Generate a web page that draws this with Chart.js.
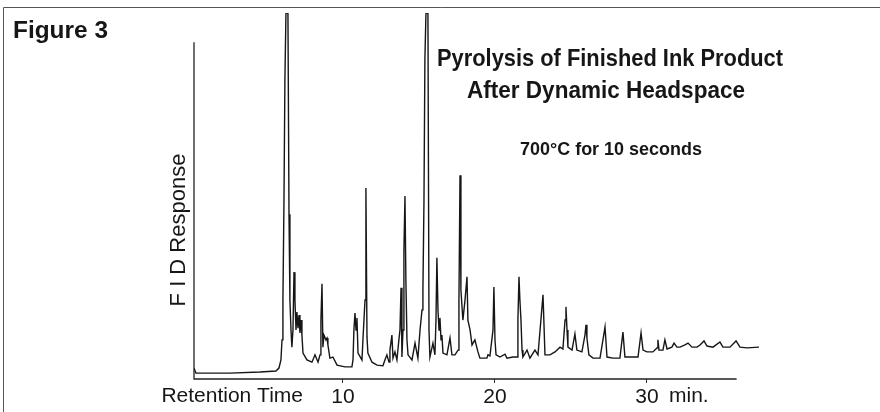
<!DOCTYPE html>
<html>
<head>
<meta charset="utf-8">
<script src="https://cdn.jsdelivr.net/npm/chart.js@4.4.1/dist/chart.umd.min.js"></script>
<style>
  html, body { margin: 0; padding: 0; background: #fff; }
  #wrap { width: 880px; height: 412px; }
</style>
</head>
<body>
<div id="wrap"><canvas id="chromatogram"></canvas></div>
<script>
// retention time (min) and FID response (relative, 100 = top of plot)
const retentionMin = [
  0.20, 0.33, 2.57, 4.54, 5.59, 5.79, 5.92, 5.99, 6.05, 6.12, 6.18, 6.25, 6.38, 6.45, 6.51, 6.58,
  6.64, 6.71, 6.78, 6.84, 6.91, 6.97, 7.04, 7.11, 7.17, 7.24, 7.30, 7.37, 7.63, 7.96, 8.16, 8.36,
  8.49, 8.55, 8.62, 8.68, 8.75, 8.88, 8.95, 9.01, 9.14, 9.34, 9.61, 10.13, 10.59, 10.66, 10.72, 10.79,
  10.86, 10.92, 10.99, 11.25, 11.32, 11.45, 11.51, 11.58, 11.64, 11.91, 12.24, 12.63, 12.76, 12.89, 13.03, 13.09,
  13.22, 13.29, 13.42, 13.55, 13.68, 13.75, 13.82, 13.88, 13.95, 14.01, 14.08, 14.14, 14.21, 14.28, 14.54, 14.74,
  14.93, 15.07, 15.20, 15.26, 15.33, 15.39, 15.46, 15.59, 15.66, 15.72, 15.92, 16.05, 16.12, 16.18, 16.25, 16.32,
  16.38, 16.45, 16.51, 16.58, 16.84, 17.04, 17.17, 17.37, 17.57, 17.63, 17.70, 17.76, 17.89, 18.03, 18.16, 18.22,
  18.36, 18.49, 18.68, 18.88, 19.01, 19.47, 19.54, 19.67, 19.87, 19.93, 20.00, 20.07, 20.33, 20.66, 20.79, 21.18,
  21.45, 21.51, 21.58, 21.64, 21.71, 21.78, 21.84, 22.11, 22.30, 22.63, 22.83, 23.16, 23.29, 23.62, 23.95, 24.28,
  24.47, 24.61, 24.67, 24.74, 24.80, 25.07, 25.26, 25.39, 25.72, 25.92, 25.99, 26.05, 26.18, 26.45, 26.91, 27.24,
  27.37, 27.76, 28.22, 28.42, 28.55, 29.08, 29.41, 29.61, 29.74, 30.00, 30.39, 30.66, 30.72, 30.79, 31.05, 31.18,
  31.32, 31.64, 31.78, 31.97, 32.17, 32.50, 32.70, 32.96, 33.29, 33.49, 33.75, 33.95, 34.34, 34.80, 35.00, 35.46,
  35.86, 36.12, 36.58, 37.37
];
const fidResponse = [
  3.0, 1.6, 1.6, 1.9, 2.2, 3.0, 5.2, 10.7, 21.6, 48.9, 81.7, 100, 100, 45.0, 21.6, 13.4,
  8.7, 13.4, 29.2, 21.6, 13.4, 18.3, 13.9, 17.5, 12.6, 16.1, 12.0, 7.1, 5.2, 4.6, 6.6, 4.6,
  6.6, 16.1, 26.0, 8.7, 12.0, 10.7, 11.2, 9.3, 5.7, 6.0, 3.8, 3.3, 3.3, 5.2, 13.4, 18.0,
  13.4, 16.7, 7.1, 5.2, 11.2, 21.6, 52.2, 11.5, 7.1, 4.6, 3.8, 3.6, 5.2, 6.6, 4.6, 7.9,
  12.0, 5.7, 7.4, 5.2, 10.7, 13.4, 24.9, 6.0, 13.4, 35.2, 50.0, 27.0, 10.7, 6.6, 5.2, 9.8,
  5.7, 13.4, 18.9, 24.3, 48.9, 87.2, 100, 100, 13.4, 6.0, 9.8, 6.6, 16.1, 33.1, 18.9, 13.4,
  16.7, 10.7, 12.0, 7.1, 6.6, 11.2, 6.6, 6.6, 7.9, 21.6, 55.7, 24.3, 16.1, 21.6, 27.9, 16.1,
  13.4, 9.3, 10.7, 7.4, 5.7, 5.7, 6.6, 6.3, 13.4, 25.1, 10.7, 6.6, 6.0, 6.8, 5.7, 6.0,
  6.0, 16.1, 27.9, 21.6, 16.1, 7.9, 6.0, 7.9, 5.7, 7.9, 6.6, 23.0, 6.6, 6.6, 7.4, 8.7,
  8.2, 16.1, 19.7, 13.4, 8.7, 7.9, 12.3, 7.9, 7.4, 12.0, 14.8, 11.2, 6.6, 5.7, 5.7, 14.2,
  6.0, 5.7, 5.7, 12.8, 6.0, 6.0, 6.0, 12.6, 7.9, 7.4, 7.4, 8.5, 10.7, 7.9, 7.9, 10.7,
  8.2, 8.7, 9.8, 8.7, 8.7, 9.3, 9.8, 8.7, 8.7, 9.3, 10.4, 9.0, 8.7, 10.1, 8.7, 8.7,
  10.4, 8.7, 8.5, 8.7
];
const tickMinutes = [10, 20, 30];
const axisStartMin = 0.2;
const axisEndMin = 35.9;
const yAxisTop = 92;

const figureLabel = 'Figure 3';
const titleLines = ['Pyrolysis of Finished Ink Product', 'After Dynamic Headspace'];
const conditionsText = '700\u00B0C for 10 seconds';
const yTitle = 'F I D Response';
const xTitle = 'Retention Time';
const unitText = 'min.';

const INK = '#161616';
const SANS = '"Liberation Sans", Arial, sans-serif';

// bold condensed look: draw bold text squeezed to a given width
function squeezed(ctx, text, size, left, baseline, width) {
  ctx.font = 'bold ' + size + 'px ' + SANS;
  const w = ctx.measureText(text).width;
  ctx.save();
  ctx.translate(left, baseline);
  ctx.scale(width / w, 1);
  ctx.textAlign = 'left';
  ctx.textBaseline = 'alphabetic';
  ctx.fillText(text, 0, 0);
  ctx.restore();
}

const decor = {
  id: 'decor',
  afterDraw(chart) {
    const { ctx } = chart;
    const x = chart.scales.x, y = chart.scales.y;
    ctx.save();

    // page frame (scan edges)
    ctx.strokeStyle = '#555';
    ctx.lineWidth = 1;
    ctx.beginPath();
    ctx.moveTo(3.5, 412);
    ctx.lineTo(3.5, 7.5);
    ctx.lineTo(880, 7.5);
    ctx.stroke();

    // axes
    const x0 = x.getPixelForValue(axisStartMin);
    const x1 = x.getPixelForValue(axisEndMin);
    const yb = y.getPixelForValue(0);
    ctx.strokeStyle = '#222';
    ctx.lineWidth = 1.3;
    ctx.beginPath();
    ctx.moveTo(x0, y.getPixelForValue(yAxisTop));
    ctx.lineTo(x0, yb);
    ctx.lineTo(x1, yb);
    ctx.stroke();

    ctx.fillStyle = INK;
    squeezed(ctx, figureLabel, 23, 13, 38, 95);
    squeezed(ctx, titleLines[0], 24, 437, 66, 346);
    squeezed(ctx, titleLines[1], 24, 467, 98, 278);
    squeezed(ctx, conditionsText, 18, 520, 155, 182);

    // y title, rotated
    ctx.font = '22px ' + SANS;
    ctx.save();
    ctx.translate(185, 230);
    ctx.rotate(-Math.PI / 2);
    ctx.textAlign = 'center';
    ctx.textBaseline = 'alphabetic';
    ctx.fillText(yTitle, 0, 0);
    ctx.restore();

    // x title left of first tick, unit after last tick
    ctx.font = '21px ' + SANS;
    ctx.textBaseline = 'alphabetic';
    ctx.textAlign = 'right';
    ctx.fillText(xTitle, 303, 402);
    ctx.textAlign = 'left';
    ctx.fillText(unitText, x.getPixelForValue(30) + 22, 402);

    ctx.restore();
  }
};

const points = retentionMin.map((t, i) => ({ x: t, y: fidResponse[i] }));

new Chart(document.getElementById('chromatogram'), {
  type: 'line',
  data: {
    datasets: [{
      label: 'FID response',
      data: points,
      borderColor: INK,
      borderWidth: 1.4,
      pointRadius: 0,
      tension: 0,
      fill: false
    }]
  },
  options: {
    responsive: true,
    maintainAspectRatio: false,
    animation: false,
    events: [],
    layout: { padding: { left: 194, right: 121, top: 13, bottom: 0 } },
    plugins: { legend: { display: false }, tooltip: { enabled: false } },
    scales: {
      x: {
        type: 'linear',
        min: axisStartMin,
        max: 37.37,
        afterBuildTicks: s => { s.ticks = tickMinutes.map(v => ({ value: v })); },
        afterFit: s => { s.height = 33; },
        ticks: {
          color: INK,
          font: { family: SANS, size: 21 },
          padding: 2,
          maxRotation: 0,
          autoSkip: false,
          callback: v => String(v)
        },
        grid: { display: true, drawOnChartArea: false, tickLength: 4, color: '#333', lineWidth: 1 },
        border: { display: false }
      },
      y: {
        display: false,
        min: 0,
        max: 100
      }
    }
  },
  plugins: [decor]
});
</script>
</body>
</html>
